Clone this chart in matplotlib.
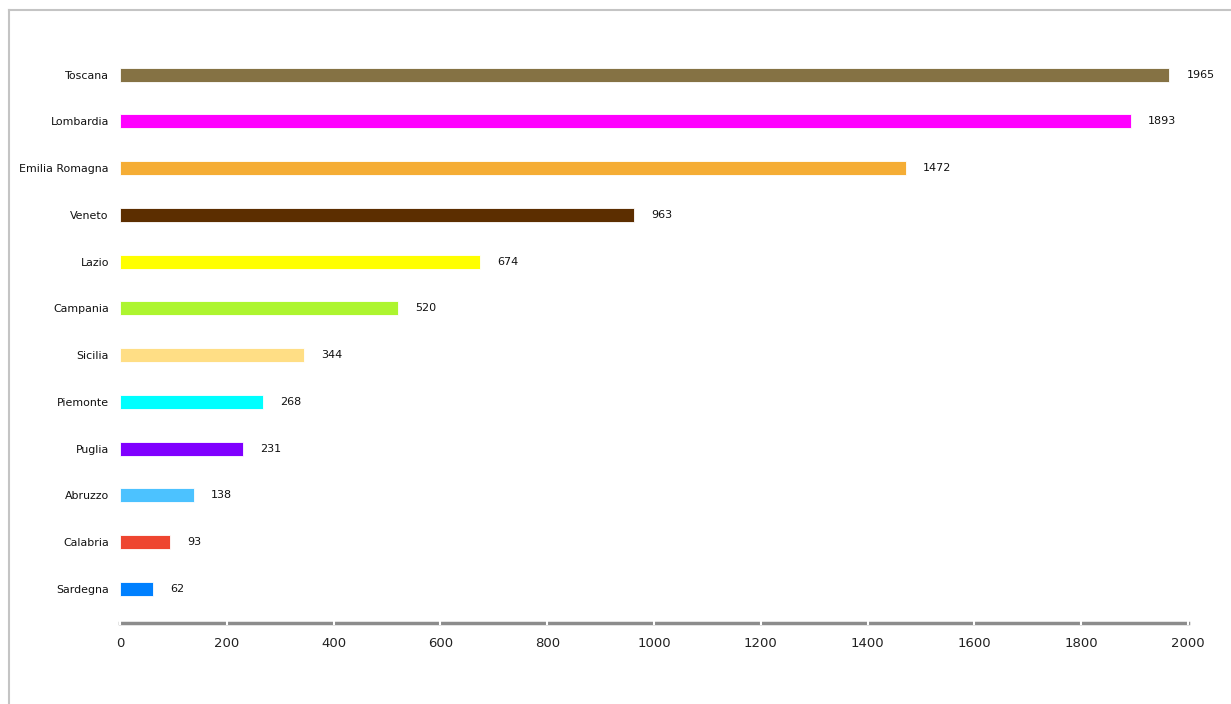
import matplotlib
matplotlib.use("Agg")
import matplotlib.pyplot as plt
from matplotlib.lines import Line2D
import numpy as np

# ── Data ──────────────────────────────────────────────────────────────────────
regions = ["Toscana", "Lombardia", "Emilia Romagna", "Veneto", "Lazio", "Campania",
           "Sicilia", "Piemonte", "Puglia", "Abruzzo", "Calabria", "Sardegna"]
values = [1965, 1893, 1472, 963, 674, 520, 344, 268, 231, 138, 93, 62]
colors = ["#857244", "#FF00FF", "#F5AD35", "#5C2E00", "#FFFF00", "#ADF52F",
          "#FFDE85", "#00FFFF", "#8000FF", "#4CC2FF", "#EE4530", "#0080FF"]
xticks = [0, 200, 400, 600, 800, 1000, 1200, 1400, 1600, 1800, 2000]

plt.rcParams["font.family"] = ["DejaVu Sans"]

fig = plt.figure(figsize=(12.31, 7.04), dpi=100, facecolor="white")
ax = fig.add_axes([120 / 1231, 81 / 704, 1068 / 1231, (704 - 81 - 42) / 704])

y = np.arange(len(regions))[::-1]
ax.barh(y, values, height=0.3, color=colors, edgecolor="white", linewidth=0.6, zorder=3)

for yi, v in zip(y, values):
    ax.text(v + 32, yi, str(v), va="center", ha="left", fontsize=8, color="#111111")

ax.set_yticks(y)
ax.set_yticklabels(regions, fontsize=7.9, color="#111111")
ax.tick_params(axis="y", length=0, pad=8)

ax.set_xlim(0, 2000)
ax.set_ylim(-0.73, 11.7)
ax.set_xticks(xticks)
ax.set_xticklabels([str(t) for t in xticks], fontsize=9.5, color="#222222")
ax.tick_params(axis="x", direction="inout", length=2.5, width=1.5, color="white", pad=9)

for s in ["top", "right", "left"]:
    ax.spines[s].set_visible(False)
ax.spines["bottom"].set_color("#8c8c8c")
ax.spines["bottom"].set_linewidth(2.5)
ax.spines["bottom"].set_zorder(1)

# outer frame (only top and left edges visible)
fig.add_artist(Line2D([8.5 / 1231, 1], [1 - 10 / 704, 1 - 10 / 704],
                      transform=fig.transFigure, color="#c4c4c4", lw=1.5))
fig.add_artist(Line2D([8.5 / 1231, 8.5 / 1231], [0, 1 - 10 / 704],
                      transform=fig.transFigure, color="#c4c4c4", lw=1.5))

fig.savefig("out.png", dpi=100, facecolor="white")
